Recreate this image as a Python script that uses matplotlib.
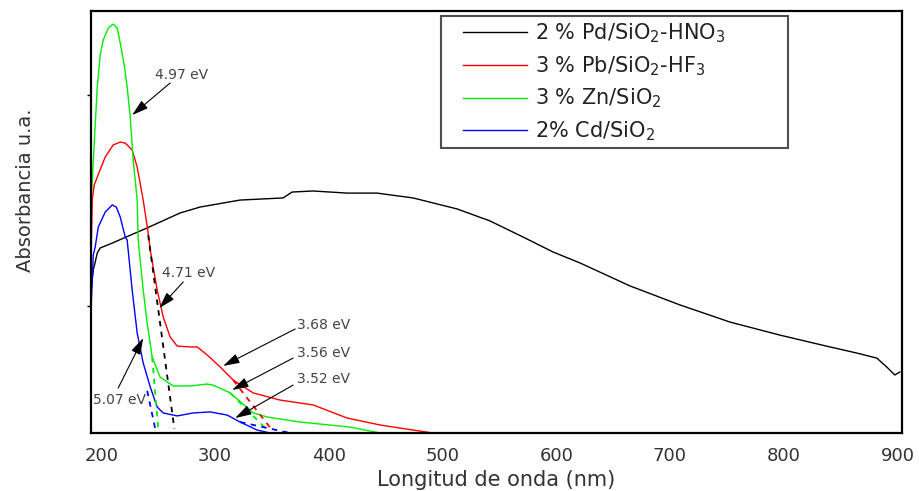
import numpy as np
import matplotlib
matplotlib.use("Agg")
import matplotlib.pyplot as plt
from matplotlib.legend_handler import HandlerLine2D

# spectra (wavelength nm, absorbance a.u.)
pd_x = [191.2, 193.0, 194.7, 196.5, 199.1, 207.9, 240.4, 269.4, 287.0, 322.1, 359.9, 367.8,
        386.3, 416.2, 442.5, 474.2, 512.8, 541.8, 570.8, 597.2, 620.9, 664.9, 708.8, 752.7,
        796.7, 840.6, 864.3, 881.9, 890.6, 897.7, 902.1]
pd_y = [0.678, 0.773, 0.810, 0.853, 0.877, 0.896, 0.972, 1.043, 1.071, 1.104, 1.114, 1.142,
        1.147, 1.137, 1.137, 1.114, 1.062, 1.005, 0.929, 0.858, 0.806, 0.697, 0.607, 0.526,
        0.464, 0.408, 0.379, 0.355, 0.313, 0.275, 0.289]

pb_x = [191.2, 192.1, 193.8, 196.5, 203.5, 210.5, 216.7, 221.1, 227.2, 231.6, 236.9, 241.3,
        243.1, 249.2, 254.5, 260.6, 266.8, 278.2, 284.4, 293.1, 304.6, 316.0, 333.6, 357.3,
        386.3, 416.2, 445.2, 474.2, 491.7]
pb_y = [0.867, 1.104, 1.175, 1.213, 1.308, 1.365, 1.379, 1.374, 1.341, 1.261, 1.104, 0.948,
        0.867, 0.678, 0.550, 0.455, 0.412, 0.408, 0.408, 0.370, 0.313, 0.251, 0.190, 0.156,
        0.133, 0.071, 0.038, 0.014, 0.0]

zn_x = [191.2, 196.5, 199.1, 201.8, 206.2, 210.5, 214.1, 216.7, 220.2, 222.8, 225.5, 228.1,
        231.6, 232.5, 236.9, 240.4, 244.8, 251.8, 263.3, 278.2, 293.1, 298.4, 313.4, 333.6,
        345.9, 374.9, 418.8, 445.2]
zn_y = [1.104, 1.640, 1.791, 1.863, 1.919, 1.938, 1.919, 1.848, 1.744, 1.640, 1.498, 1.294,
        1.104, 0.915, 0.678, 0.521, 0.360, 0.265, 0.223, 0.223, 0.232, 0.227, 0.190, 0.095,
        0.076, 0.052, 0.028, 0.0]

cd_x = [191.2, 193.0, 194.7, 197.4, 203.5, 209.7, 213.2, 216.7, 221.1, 222.8, 227.2, 231.6,
        236.9, 243.1, 249.2, 254.5, 266.8, 280.8, 295.8, 310.7, 322.1, 337.1, 348.5, 366.1]
cd_y = [0.607, 0.844, 0.882, 0.976, 1.047, 1.081, 1.071, 1.024, 0.929, 0.915, 0.678, 0.474,
        0.332, 0.218, 0.123, 0.095, 0.081, 0.095, 0.100, 0.085, 0.052, 0.014, 0.0, 0.0]

# tangent lines used for the band gaps: (x0, x1, y0, y1, colour)
tangents = [
    (241.3, 264.3, 0.938, 0.02, "black"),
    (240.4, 247.5, 0.200, 0.02, "blue"),
    (244.8, 250.1, 0.360, 0.02, "#00ee00"),
    (316.0, 350.0, 0.251, 0.015, "red"),
    (313.4, 344.1, 0.190, 0.024, "#00ee00"),
    (322.1, 366.0, 0.052, 0.0, "blue"),
]

# band gap labels: text, text pos, arrow tail, arrow head
gap_labels = ["4.97 eV", "4.71 eV", "5.07 eV", "3.68 eV", "3.56 eV", "3.52 eV"]
gap_text_xy = [(247.5, 1.697), (253.6, 0.758), (193.0, 0.156),
               (372.2, 0.512), (372.2, 0.379), (372.2, 0.256)]
gap_tail = [(260.6, 1.659), (272.1, 0.716), (214.9, 0.213),
            (370.5, 0.493), (368.7, 0.355), (368.7, 0.227)]
gap_head = [(227.2, 1.507), (251.0, 0.592), (236.9, 0.450),
            (307.2, 0.318), (315.1, 0.204), (317.8, 0.071)]

labels = ["2 % Pd/SiO$_2$-HNO$_3$", "3 % Pb/SiO$_2$-HF$_3$", "3 % Zn/SiO$_2$", "2% Cd/SiO$_2$"]
colors = ["black", "red", "#00ee00", "blue"]


# legend line that leaves a gap before it, like the original box
class GapLine(HandlerLine2D):
    def create_artists(self, legend, orig_handle, xdescent, ydescent, width, height,
                       fontsize, trans):
        arts = super().create_artists(legend, orig_handle, xdescent, ydescent, width,
                                      height, fontsize, trans)
        for a in arts:
            xd = np.asarray(a.get_xdata(), dtype=float)
            yd = np.asarray(a.get_ydata(), dtype=float)
            if len(xd) >= 2:
                a.set_xdata([xd[0] + 0.8 * fontsize, xd[-1]])
                a.set_ydata([yd[0], yd[-1]])
        return arts


fig = plt.figure(figsize=(9.2, 4.91), dpi=100)
ax = fig.add_axes([0.0989, 0.1181, 0.8815, 0.8595])

for xs, ys, c, lab in zip([pd_x, pb_x, zn_x, cd_x], [pd_y, pb_y, zn_y, cd_y], colors, labels):
    ax.plot(xs, ys, color=c, lw=1.0, label=lab)

for x0, x1, y0, y1, c in tangents:
    ax.plot([x0, x1], [y0, y1], color=c, lw=1.3, ls=(0, (3, 3)))

for t, txy, tail, head in zip(gap_labels, gap_text_xy, gap_tail, gap_head):
    ax.text(txy[0], txy[1], t, fontsize=10, color="#444444", ha="left", va="center")
    ax.annotate("", xy=head, xytext=tail,
                arrowprops=dict(arrowstyle="-|>,head_length=1.0,head_width=0.3",
                                color="black", lw=0.8, shrinkA=0, shrinkB=0))

ax.set_xlim(191, 904)
ax.set_ylim(0, 2.0)
ax.set_xticks([200, 300, 400, 500, 600, 700, 800, 900])
ax.set_yticks([0.6, 1.6])
ax.set_yticklabels([])
ax.tick_params(axis="x", length=0, pad=10, labelsize=13, labelcolor="#333333")
ax.tick_params(axis="y", length=3, width=1, direction="out")
for s in ax.spines.values():
    s.set_linewidth(1.6)

ax.set_xlabel("Longitud de onda (nm)", fontsize=15, color="#333333", labelpad=4)
ax.set_ylabel("Absorbancia u.a.", fontsize=14, color="#333333")
ax.yaxis.set_label_coords(-0.069, 0.576)

leg = ax.legend(loc="upper left", bbox_to_anchor=(0.4316, 0.673, 0.4274, 0.315),
                mode="expand", fontsize=15, frameon=True, fancybox=False,
                edgecolor="#222222", handlelength=3.9, handletextpad=0.35,
                labelspacing=0.44, borderaxespad=0, borderpad=0.25,
                handler_map={plt.Line2D: GapLine()})
leg.get_frame().set_linewidth(1.5)
for t in leg.get_texts():
    t.set_color("#222222")

fig.savefig("out.png", dpi=100)
